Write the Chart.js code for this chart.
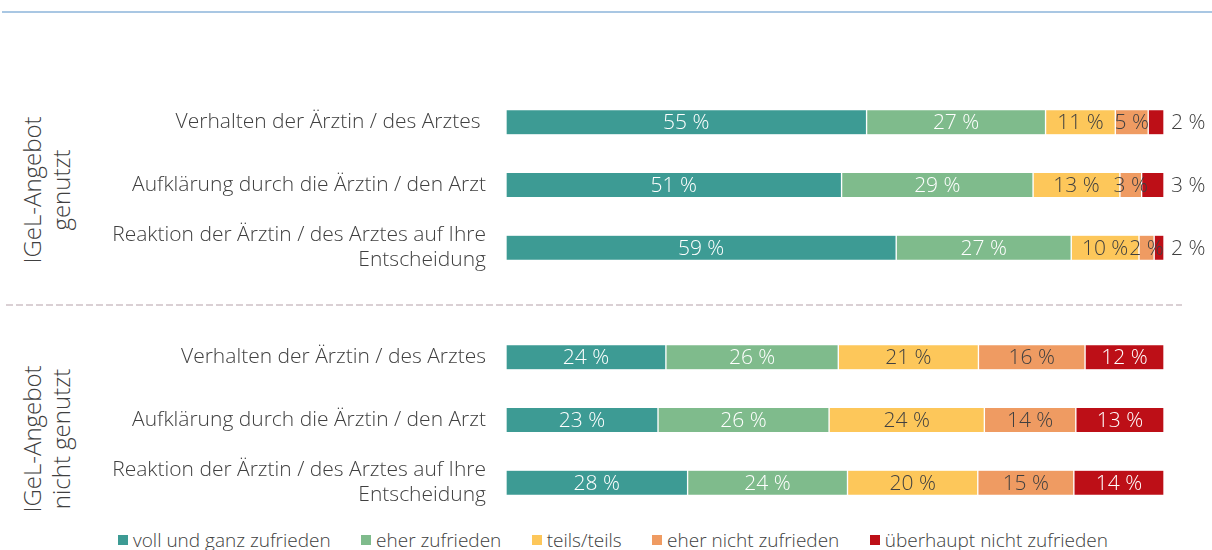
<!DOCTYPE html>
<html>
<head>
<meta charset="utf-8">
<script src="https://cdn.jsdelivr.net/npm/chart.js@4.4.1/dist/chart.umd.min.js"></script>
<style>
  body { margin: 0; width: 1212px; height: 550px; position: relative; overflow: hidden; background: #fff; font-family: "Open Sans", sans-serif; }
  .topline { position: absolute; left: 2px; right: 0; top: 11px; height: 2px; background: #a9c7e3; }
  .sep { position: absolute; left: 6px; width: 1176px; top: 304px; height: 2px;
         background: repeating-linear-gradient(to right, #dad0d4 0 7px, transparent 7px 10px); }
  .group { position: absolute; transform: translate(-50%, -50%) rotate(-90deg); text-align: center;
           font-size: 24px; line-height: 29px; color: #404040; white-space: nowrap; font-weight: 300; }
  .box { position: absolute; left: 0; width: 1212px; }
  #legend { position: absolute; left: 118px; width: 990px; top: 530px; height: 20px;
            display: flex; justify-content: space-between; align-items: center; }
  #legend span { display: flex; align-items: center; font-size: 19px; color: #404040; font-weight: 300; }
  #legend i { display: inline-block; width: 10px; height: 10px; margin-right: 5px; }
</style>
</head>
<body>
<div class="topline"></div>
<div class="group" style="left:46px; top:190px;">IGeL-Angebot<br>genutzt</div>
<div class="group" style="left:46px; top:439px;">IGeL-Angebot<br>nicht genutzt</div>
<div class="box" style="top:91px; height:188px;"><canvas id="chartTop"></canvas></div>
<div class="sep"></div>
<div class="box" style="top:326px; height:188px;"><canvas id="chartBottom"></canvas></div>
<div id="legend"></div>

<script>
// categories
const topCategories = [
  'Verhalten der Ärztin / des Arztes ',
  'Aufklärung durch die Ärztin / den Arzt',
  ['Reaktion der Ärztin / des Arztes auf Ihre', 'Entscheidung']
];
const bottomCategories = [
  'Verhalten der Ärztin / des Arztes',
  'Aufklärung durch die Ärztin / den Arzt',
  ['Reaktion der Ärztin / des Arztes auf Ihre', 'Entscheidung']
];
const seriesNames = ['voll und ganz zufrieden', 'eher zufrieden', 'teils/teils', 'eher nicht zufrieden', 'überhaupt nicht zufrieden'];
const seriesColors = ['#3d9b94', '#7fbb8c', '#fdc75a', '#ef9b62', '#bd0f17'];
const labelColors = ['#ffffff', '#ffffff', '#404040', '#404040', '#ffffff'];

// IGeL-Angebot genutzt (%)
const genutztVoll = [54.8, 51.0, 59.3];
const genutztEher = [27.2, 29.1, 26.6];
const genutztTeils = [10.6, 13.2, 10.3];
const genutztEherNicht = [5.0, 3.3, 2.3];
const genutztUeberhaupt = [2.4, 3.4, 1.5];

// IGeL-Angebot nicht genutzt (%)
const nichtVoll = [24.3, 23.1, 27.6];
const nichtEher = [26.2, 26.0, 24.3];
const nichtTeils = [21.3, 23.6, 19.8];
const nichtEherNicht = [16.2, 13.9, 14.6];
const nichtUeberhaupt = [12.0, 13.4, 13.7];

const FONT = '"Open Sans", sans-serif';

const valueLabels = {
  id: 'valueLabels',
  afterDatasetsDraw(chart) {
    const ctx = chart.ctx;
    const n = chart.data.datasets.length;
    ctx.save();
    ctx.font = '300 21px ' + FONT;
    ctx.textBaseline = 'middle';
    chart.data.datasets.forEach((ds, i) => {
      chart.getDatasetMeta(i).data.forEach((bar, j) => {
        const v = ds.data[j];
        const txt = Math.round(v) + ' %';
        if (i === n - 1 && v < 5) {
          // small last segment: label right of the bar
          ctx.textAlign = 'left';
          ctx.fillStyle = '#404040';
          ctx.fillText(txt, bar.x + 7, bar.y + 1);
        } else {
          ctx.textAlign = 'center';
          ctx.fillStyle = labelColors[i];
          ctx.fillText(txt, (bar.base + bar.x) / 2, bar.y + 1);
        }
      });
    });
    ctx.restore();
  }
};

function makeChart(id, categories, series) {
  return new Chart(document.getElementById(id), {
    type: 'bar',
    data: {
      labels: categories,
      datasets: series.map((values, i) => ({
        label: seriesNames[i],
        data: values,
        backgroundColor: seriesColors[i],
        borderColor: '#ffffff',
        borderWidth: { left: 1, right: 1, top: 0, bottom: 0 },
        borderSkipped: false,
        barThickness: 24
      }))
    },
    options: {
      indexAxis: 'y',
      responsive: true,
      maintainAspectRatio: false,
      animation: false,
      layout: { padding: { left: 62, right: 48, top: 0, bottom: 0 } },
      scales: {
        x: { stacked: true, min: 0, max: 100, display: false },
        y: {
          stacked: true,
          grid: { display: false, drawTicks: false },
          border: { display: false },
          ticks: {
            padding: 20,
            color: '#404040',
            font: { family: FONT, size: 21, weight: 300, lineHeight: 1.2 }
          },
          afterFit(scale) {
            scale.width = 444;
            scale.paddingTop = 0;
            scale.paddingBottom = 0;
          }
        }
      },
      plugins: {
        legend: { display: false },
        tooltip: { enabled: false }
      }
    },
    plugins: [valueLabels]
  });
}

makeChart('chartTop', topCategories,
  [genutztVoll, genutztEher, genutztTeils, genutztEherNicht, genutztUeberhaupt]);
makeChart('chartBottom', bottomCategories,
  [nichtVoll, nichtEher, nichtTeils, nichtEherNicht, nichtUeberhaupt]);

// legend
const legend = document.getElementById('legend');
seriesNames.forEach((name, i) => {
  const item = document.createElement('span');
  const sw = document.createElement('i');
  sw.style.background = seriesColors[i];
  item.appendChild(sw);
  item.appendChild(document.createTextNode(name));
  legend.appendChild(item);
});
</script>
</body>
</html>
